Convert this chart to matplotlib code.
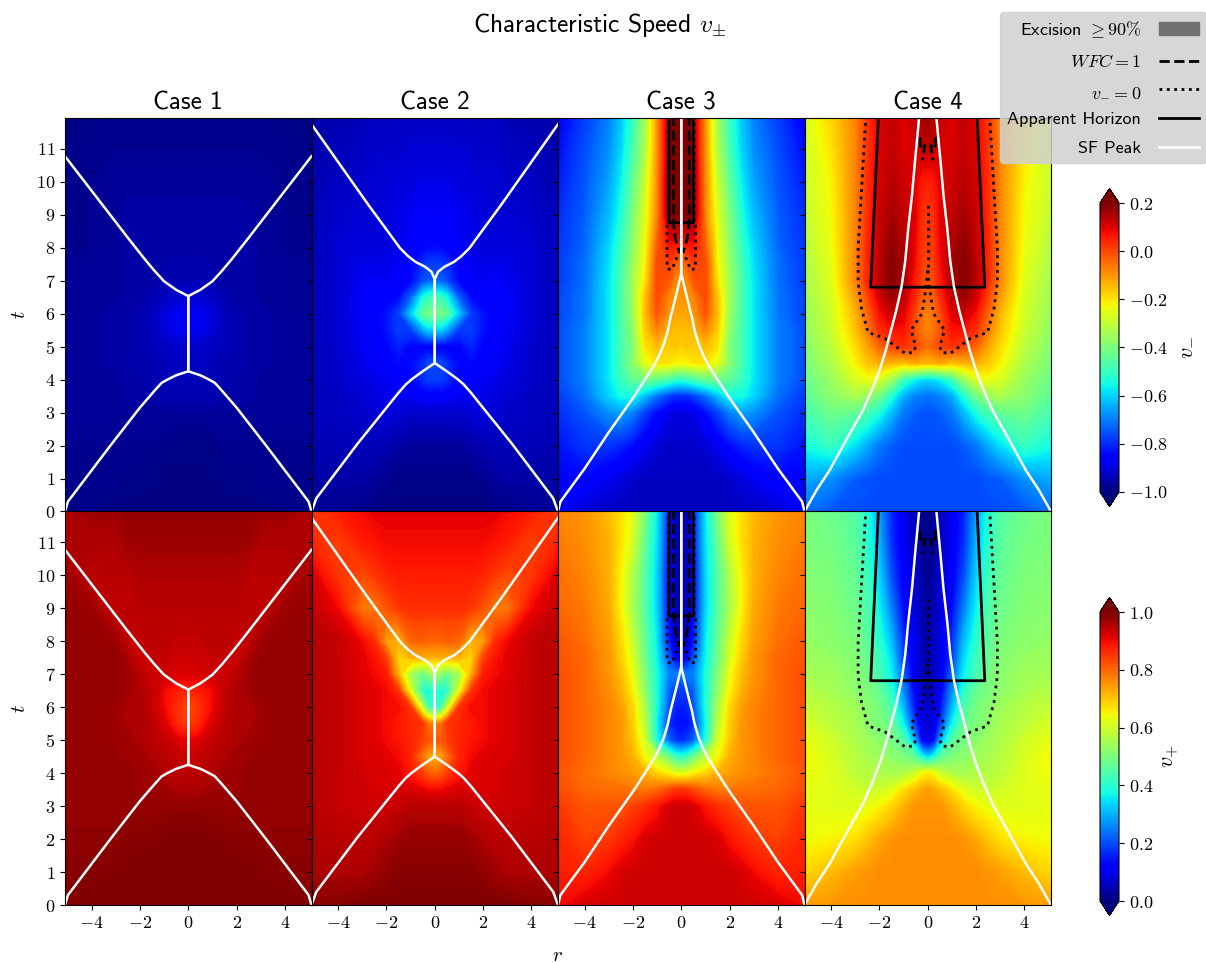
import numpy as np
import matplotlib
matplotlib.use("Agg")
import matplotlib.pyplot as plt
from matplotlib.cm import ScalarMappable
from matplotlib.colors import Normalize
from matplotlib.lines import Line2D
from matplotlib.patches import Patch

plt.rcParams['mathtext.fontset'] = 'cm'
plt.rcParams['font.family'] = ['cmss10', 'DejaVu Sans']
plt.rcParams['axes.unicode_minus'] = False

CASES = ['Case 1', 'Case 2', 'Case 3', 'Case 4']
R_NODES = [0, .25, .5, 1, 1.5, 2, 2.5, 3, 4, 5.1]
T_NODES = [0, 1, 2, 3, 3.5, 4, 4.5, 5, 5.5, 6, 6.5, 7, 7.5, 8, 9, 10, 11, 12]
X_TICKS = [-4, -2, 0, 2, 4]
Y_TICKS = list(range(12))
CB_MINUS_TICKS = [-1.0, -.8, -.6, -.4, -.2, 0.0, .2]
CB_PLUS_TICKS = [0.0, .2, .4, .6, .8, 1.0]

VM1 = [
 [-1,-1,-1,-1,-1,-1,-1,-1,-.99,-.99],
 [-1,-1,-1,-.995,-.99,-.99,-.99,-.98,-.98,-.98],
 [-.99,-.99,-.99,-.99,-.98,-.98,-.98,-.98,-.98,-.98],
 [-.97,-.97,-.97,-.97,-.97,-.97,-.97,-.97,-.97,-.97],
 [-.95,-.95,-.95,-.95,-.96,-.96,-.96,-.97,-.97,-.97],
 [-.94,-.94,-.94,-.94,-.95,-.96,-.96,-.97,-.97,-.97],
 [-.93,-.93,-.93,-.94,-.95,-.95,-.96,-.96,-.97,-.97],
 [-.92,-.92,-.92,-.93,-.94,-.95,-.96,-.96,-.97,-.97],
 [-.88,-.88,-.88,-.91,-.94,-.95,-.96,-.96,-.97,-.97],
 [-.87,-.87,-.88,-.90,-.94,-.95,-.96,-.96,-.97,-.98],
 [-.91,-.91,-.92,-.93,-.95,-.96,-.96,-.97,-.97,-.98],
 [-.95,-.95,-.95,-.95,-.96,-.96,-.96,-.97,-.97,-.98],
 [-.95,-.95,-.95,-.96,-.96,-.96,-.96,-.97,-.97,-.98],
 [-.96,-.96,-.96,-.96,-.96,-.96,-.96,-.97,-.98,-.98],
 [-.96,-.96,-.96,-.96,-.96,-.96,-.96,-.97,-.98,-.99],
 [-.97,-.97,-.97,-.97,-.97,-.97,-.97,-.97,-.98,-.99],
 [-.98,-.98,-.98,-.98,-.98,-.98,-.98,-.98,-.98,-.99],
 [-.98,-.98,-.98,-.98,-.98,-.98,-.98,-.98,-.99,-.99],
]
VM2 = [
 [-1,-1,-1,-1,-1,-1,-.99,-.99,-.98,-.97],
 [-.99,-.99,-.99,-.99,-.99,-.98,-.97,-.96,-.96,-.96],
 [-.97,-.97,-.97,-.97,-.96,-.95,-.94,-.94,-.94,-.95],
 [-.92,-.92,-.92,-.92,-.91,-.90,-.91,-.92,-.93,-.94],
 [-.86,-.86,-.87,-.88,-.88,-.89,-.90,-.91,-.93,-.94],
 [-.78,-.78,-.80,-.85,-.87,-.88,-.89,-.90,-.92,-.94],
 [-.76,-.76,-.80,-.84,-.84,-.87,-.87,-.89,-.92,-.94],
 [-.86,-.86,-.86,-.85,-.81,-.85,-.87,-.88,-.92,-.94],
 [-.62,-.60,-.66,-.78,-.78,-.83,-.87,-.88,-.91,-.94],
 [-.42,-.41,-.44,-.62,-.78,-.83,-.86,-.87,-.91,-.94],
 [-.48,-.50,-.55,-.74,-.84,-.86,-.86,-.87,-.91,-.94],
 [-.74,-.74,-.76,-.85,-.87,-.88,-.87,-.88,-.91,-.94],
 [-.78,-.78,-.80,-.85,-.88,-.89,-.89,-.89,-.91,-.94],
 [-.84,-.84,-.85,-.87,-.89,-.90,-.90,-.90,-.91,-.94],
 [-.87,-.87,-.87,-.88,-.89,-.90,-.91,-.91,-.92,-.94],
 [-.89,-.89,-.89,-.90,-.90,-.91,-.91,-.92,-.93,-.95],
 [-.91,-.91,-.91,-.91,-.92,-.92,-.92,-.93,-.94,-.95],
 [-.93,-.93,-.93,-.93,-.93,-.93,-.93,-.94,-.95,-.96],
]
VM3 = [
 [-.93,-.93,-.93,-.93,-.93,-.93,-.93,-.93,-.91,-.87],
 [-.93,-.93,-.93,-.93,-.93,-.92,-.90,-.88,-.85,-.85],
 [-.92,-.92,-.92,-.91,-.88,-.84,-.81,-.79,-.79,-.83],
 [-.90,-.90,-.89,-.84,-.78,-.70,-.66,-.68,-.75,-.80],
 [-.80,-.80,-.78,-.72,-.63,-.55,-.55,-.60,-.72,-.78],
 [-.52,-.51,-.48,-.44,-.42,-.44,-.50,-.58,-.70,-.76],
 [-.22,-.22,-.20,-.20,-.25,-.38,-.48,-.58,-.70,-.76],
 [-.18,-.16,-.17,-.15,-.20,-.40,-.48,-.58,-.70,-.76],
 [-.15,-.15,-.14,-.08,-.17,-.38,-.48,-.58,-.70,-.76],
 [-.12,-.12,-.10,-.02,-.15,-.36,-.48,-.58,-.71,-.77],
 [-.10,-.10,-.08,.0,-.16,-.35,-.48,-.58,-.71,-.77],
 [-.09,-.08,-.02,.0,-.20,-.35,-.48,-.58,-.72,-.78],
 [-.05,-.03,.01,.0,-.22,-.36,-.49,-.59,-.72,-.78],
 [.03,.05,.06,-.03,-.23,-.38,-.50,-.60,-.73,-.79],
 [.20,.20,.18,-.08,-.26,-.40,-.54,-.63,-.74,-.80],
 [.20,.20,.18,-.09,-.29,-.44,-.57,-.66,-.75,-.82],
 [.20,.20,.16,-.10,-.33,-.48,-.60,-.68,-.76,-.84],
 [.20,.20,.15,-.10,-.35,-.50,-.62,-.70,-.78,-.86],
]
VM4 = [
 [-.76,-.76,-.76,-.76,-.76,-.76,-.76,-.76,-.75,-.72],
 [-.76,-.76,-.76,-.76,-.76,-.76,-.75,-.74,-.68,-.65],
 [-.76,-.76,-.76,-.76,-.74,-.71,-.65,-.59,-.50,-.55],
 [-.75,-.75,-.74,-.71,-.63,-.54,-.48,-.44,-.42,-.48],
 [-.72,-.71,-.70,-.65,-.53,-.42,-.37,-.33,-.38,-.45],
 [-.60,-.59,-.57,-.49,-.36,-.27,-.24,-.27,-.36,-.43],
 [-.14,-.14,-.12,-.16,-.14,-.13,-.16,-.22,-.33,-.40],
 [-.05,-.03,.0,.03,.0,-.04,-.12,-.19,-.31,-.39],
 [-.08,-.06,-.02,.07,.07,.03,-.07,-.16,-.29,-.37],
 [-.07,-.06,-.01,.10,.12,.07,-.04,-.14,-.28,-.36],
 [-.04,-.03,.03,.13,.17,.11,.0,-.11,-.27,-.35],
 [-.01,.0,.05,.15,.19,.14,.04,-.08,-.26,-.34],
 [.0,.01,.07,.16,.19,.14,.04,-.08,-.25,-.33],
 [.01,.02,.08,.15,.18,.13,.04,-.08,-.24,-.32],
 [.02,.03,.09,.13,.16,.12,.03,-.08,-.23,-.30],
 [.05,.06,.09,.12,.14,.11,.03,-.08,-.22,-.29],
 [.13,.12,.11,.10,.13,.10,.02,-.08,-.20,-.28],
 [.17,.16,.13,.10,.13,.09,.02,-.08,-.18,-.27],
]
VP1 = [
 [1,1,1,1,1,1,1,1,1,.995],
 [1,1,1,1,1,1,.995,.995,.99,.99],
 [1,1,1,.995,.99,.99,.99,.985,.985,.985],
 [.98,.98,.98,.98,.98,.98,.98,.98,.98,.98],
 [.96,.96,.96,.97,.97,.97,.98,.98,.98,.98],
 [.95,.95,.95,.96,.97,.97,.98,.98,.98,.98],
 [.93,.93,.94,.95,.96,.97,.97,.98,.98,.98],
 [.91,.91,.92,.94,.95,.96,.97,.97,.98,.98],
 [.86,.85,.87,.92,.95,.96,.96,.97,.98,.98],
 [.84,.84,.86,.90,.94,.96,.96,.97,.98,.98],
 [.88,.87,.88,.90,.94,.96,.97,.98,.98,.98],
 [.92,.92,.92,.93,.93,.95,.97,.98,.98,.98],
 [.93,.93,.93,.94,.94,.93,.96,.98,.98,.98],
 [.94,.94,.94,.95,.95,.94,.94,.97,.98,.98],
 [.95,.95,.95,.95,.95,.95,.95,.94,.97,.98],
 [.96,.96,.96,.96,.96,.96,.95,.95,.95,.97],
 [.97,.97,.97,.97,.97,.97,.97,.96,.96,.96],
 [.98,.98,.98,.98,.98,.98,.98,.97,.97,.96],
]
VP2 = [
 [1,1,1,1,1,1,1,1,.99,.99],
 [.99,.99,.99,.99,.99,.98,.97,.96,.96,.96],
 [.98,.98,.98,.98,.97,.96,.95,.95,.95,.96],
 [.95,.95,.95,.95,.94,.93,.93,.93,.94,.95],
 [.90,.90,.91,.92,.92,.92,.92,.93,.94,.95],
 [.80,.81,.84,.88,.91,.92,.92,.93,.94,.95],
 [.72,.73,.78,.87,.90,.91,.92,.92,.94,.95],
 [.82,.82,.84,.87,.89,.90,.91,.92,.94,.95],
 [.78,.78,.85,.87,.88,.90,.91,.92,.94,.95],
 [.40,.42,.58,.85,.90,.90,.91,.92,.94,.95],
 [.40,.38,.40,.62,.85,.90,.91,.92,.94,.95],
 [.55,.52,.47,.55,.72,.88,.90,.91,.94,.95],
 [.72,.72,.72,.72,.68,.84,.89,.91,.94,.95],
 [.80,.80,.81,.80,.72,.74,.86,.90,.94,.95],
 [.86,.86,.86,.86,.85,.82,.78,.78,.90,.94],
 [.88,.88,.88,.88,.88,.87,.85,.83,.85,.92],
 [.90,.90,.90,.90,.90,.90,.89,.88,.84,.87],
 [.91,.91,.91,.91,.91,.91,.91,.90,.88,.84],
]
VP3 = [
 [.93,.93,.93,.93,.93,.93,.93,.93,.92,.90],
 [.93,.93,.93,.93,.93,.93,.92,.90,.87,.88],
 [.93,.93,.93,.93,.92,.89,.87,.85,.84,.87],
 [.93,.93,.92,.885,.86,.84,.82,.82,.82,.85],
 [.86,.85,.83,.80,.78,.78,.79,.79,.80,.83],
 [.62,.62,.65,.68,.72,.74,.76,.77,.79,.82],
 [.40,.42,.48,.57,.64,.72,.75,.77,.80,.83],
 [.16,.18,.22,.38,.60,.70,.75,.77,.80,.83],
 [.14,.14,.17,.36,.57,.69,.75,.77,.80,.83],
 [.15,.16,.20,.38,.55,.68,.74,.77,.80,.83],
 [.18,.18,.22,.38,.52,.65,.72,.76,.80,.83],
 [.25,.25,.25,.38,.50,.63,.71,.75,.80,.83],
 [.10,.12,.20,.36,.48,.61,.69,.75,.80,.82],
 [.05,.05,.15,.35,.47,.59,.68,.74,.79,.82],
 [.03,.05,.12,.33,.45,.55,.65,.73,.78,.80],
 [.03,.05,.12,.33,.45,.56,.65,.72,.77,.79],
 [.03,.05,.14,.34,.47,.60,.67,.72,.76,.78],
 [.03,.05,.15,.35,.50,.62,.67,.71,.75,.77],
]
VP4 = [
 [.76,.76,.76,.76,.76,.76,.76,.76,.75,.74],
 [.76,.76,.76,.76,.76,.76,.75,.74,.71,.68],
 [.76,.76,.76,.76,.75,.73,.70,.67,.65,.64],
 [.75,.75,.75,.72,.68,.65,.63,.62,.62,.63],
 [.74,.73,.71,.67,.62,.60,.59,.60,.62,.63],
 [.66,.64,.60,.56,.55,.56,.57,.58,.62,.64],
 [.33,.38,.45,.50,.52,.54,.55,.57,.61,.65],
 [.08,.12,.28,.45,.49,.52,.54,.56,.60,.63],
 [.07,.09,.17,.36,.47,.50,.52,.55,.58,.61],
 [.06,.08,.13,.30,.44,.49,.52,.54,.57,.59],
 [.05,.06,.10,.26,.40,.47,.50,.52,.55,.57],
 [.04,.05,.09,.22,.36,.43,.49,.52,.54,.55],
 [.04,.05,.09,.18,.34,.42,.47,.51,.53,.54],
 [.04,.05,.09,.17,.31,.40,.46,.50,.52,.53],
 [.03,.04,.08,.13,.25,.36,.44,.48,.51,.52],
 [.02,.03,.07,.11,.20,.33,.42,.47,.50,.51],
 [.01,.02,.05,.10,.17,.30,.40,.46,.49,.50],
 [.01,.02,.05,.10,.16,.28,.39,.45,.48,.50],
]

SF1_R = [5.1,4.98,3.22,2.0,1.35,1.1,.86,.5,0,0,.5,1.0,1.4,1.8,2.5,5.1]
SF1_T = [0,.3,2,3.15,3.7,3.9,4.0,4.13,4.25,6.53,6.72,6.98,7.3,7.65,8.3,10.77]
SF2_R = [5.1,4.9,3.2,1.5,1.2,.95,.5,0,0,.14,.4,.8,1.1,1.43,2.75,5.1]
SF2_T = [0,.4,2.05,3.6,3.85,4.01,4.25,4.5,7.04,7.27,7.42,7.57,7.74,7.98,9.3,11.74]
SF3_R = [5.1,5.0,4.0,3.0,1.97,1.5,1.12,.9,.71,.55,.44,.3,.15,0,0]
SF3_T = [0,.3,1.3,2.4,3.47,4.0,4.44,4.75,5.1,5.5,5.9,6.3,6.75,7.22,12]
SF4_R = [5.1,4.6,4.07,3.35,2.68,2.3,1.99,1.75,1.59,1.3,1.08,.93,.81,.65,.53,.35]
SF4_T = [0,.65,1.24,2.2,3.07,3.7,4.29,4.85,5.3,6.1,6.83,7.6,8.56,9.6,10.6,12]
AH3_R = [.5,.51,0]
AH3_T = [12,8.76,8.76]
AH4_R = [2.04,2.36,0]
AH4_T = [12,6.8,6.8]
DOT3_R = [.53,.53,.59,.59,.59,.57,.39,.25,.1,0]
DOT3_T = [12,8.7,8.69,7.99,7.58,7.36,7.33,7.58,7.85,8.0]
DOT4_R = [2.56,2.72,2.88,2.88,2.74,2.47,1.77,.95,.59,.5,.69,.24,.11,.04,0]
DOT4_T = [12,10,7.97,6.95,6.14,5.43,5.25,4.8,4.82,5.0,5.5,6.0,6.6,7.0,7.4]
SPINE4_R = [0,0]
SPINE4_T = [7.4,9.35]
DASH3_R = [.33,.33,.25,.12,0]
DASH3_T = [12,8.8,8.3,7.95,7.9]
DASH4_R = [.32,.3,.12,.22]
DASH4_T = [11.35,11.0,11.1,10.65]

W, H = 1206, 963
fig = plt.figure(figsize=(W/100, H/100), dpi=100)
L, R_, T_, B_ = 65, 1051, 118, 905
pw, ph = (R_-L)/4, (B_-T_)/2

rr = np.array(R_NODES)
rfull = np.concatenate([-rr[:0:-1], rr])
tfull = np.array(T_NODES)

def mirror(vals):
    a = np.array(vals, float)
    return np.hstack([a[:, :0:-1], a])

rows = [([VM1, VM2, VM3, VM4], -1.0, 0.2), ([VP1, VP2, VP3, VP4], 0.0, 1.0)]
SF = [(SF1_R, SF1_T), (SF2_R, SF2_T), (SF3_R, SF3_T), (SF4_R, SF4_T)]

def both(ax, r, t, **kw):
    r = np.array(r)
    ax.plot(r, t, **kw)
    ax.plot(-r, t, **kw)

for i, (fields, vmin, vmax) in enumerate(rows):
    for j, fld in enumerate(fields):
        ax = fig.add_axes([(L+j*pw)/W, 1-(T_+(i+1)*ph)/H, pw/W, ph/H])
        ax.contourf(rfull, tfull, mirror(fld), levels=np.linspace(vmin, vmax, 241),
                    cmap='jet', extend='both', antialiased=False)
        ax.set_xlim(-5.1, 5.1)
        ax.set_ylim(0, 11.93)
        ax.set_xticks(X_TICKS)
        ax.set_yticks(Y_TICKS)
        ax.tick_params(labelsize=13, labelleft=False, labelbottom=False, length=3.5)
        if j == 0:
            ax.set_yticks(Y_TICKS, labels=[f'${v}$' for v in Y_TICKS])
            ax.tick_params(labelleft=True)
            ax.set_ylabel('$t$', fontsize=15, labelpad=5)
        if i == 1:
            ax.set_xticks(X_TICKS, labels=[f'${v}$' for v in X_TICKS])
            ax.tick_params(labelbottom=True)
        if i == 0:
            ax.set_title(CASES[j], fontsize=18, pad=6)
        if j == 2:
            both(ax, DASH3_R, DASH3_T, color='k', ls='--', lw=2)
            both(ax, DOT3_R, DOT3_T, color='k', ls=':', lw=2)
            both(ax, AH3_R, AH3_T, color='k', lw=2)
        if j == 3:
            both(ax, DASH4_R, DASH4_T, color='k', ls='--', lw=2)
            both(ax, DOT4_R, DOT4_T, color='k', ls=':', lw=2)
            ax.plot(SPINE4_R, SPINE4_T, color='k', ls=':', lw=2)
            both(ax, AH4_R, AH4_T, color='k', lw=2)
        both(ax, SF[j][0], SF[j][1], color='w', lw=1.8)

def colorbar(y0, y1, vmin, vmax, ticks, label):
    ext = 0.05*(y1-y0)
    cax = fig.add_axes([1100/W, 1-(y1+ext)/H, 19/W, (y1-y0+2*ext)/H])
    sm = ScalarMappable(norm=Normalize(vmin, vmax), cmap='jet')
    cb = fig.colorbar(sm, cax=cax, extend='both')
    cb.set_ticks(ticks, labels=[f'${v:.1f}$' for v in ticks])
    cb.ax.tick_params(labelsize=13)
    cb.set_label(label, fontsize=16, labelpad=6)

colorbar(203, 492, -1.0, 0.2, CB_MINUS_TICKS, '$v_{-}$')
colorbar(612, 901, 0.0, 1.0, CB_PLUS_TICKS, '$v_{+}$')

fig.text(600/W, 1-25/H, r'Characteristic Speed $v_{\pm}$', fontsize=18.4, ha='center', va='center')
fig.text(557/W, 1-955/H, '$r$', fontsize=15, ha='center', va='center')

handles = [
    Patch(color='#707070', label=r'Excision $\geq 90\%$'),
    Line2D([], [], color='k', ls='--', lw=2, label='$WFC=1$'),
    Line2D([], [], color='k', ls=':', lw=2, label='$v_{-}=0$'),
    Line2D([], [], color='k', lw=2, label='Apparent Horizon'),
    Line2D([], [], color='w', lw=2, label='SF Peak'),
]
fig.legend(handles=handles, loc='upper right', bbox_to_anchor=(1.0, 1-12/H), borderaxespad=0,
           markerfirst=False, fontsize=13, facecolor='0.82', edgecolor='0.82', framealpha=.85,
           labelspacing=.72, handlelength=2.2, handletextpad=1.0, alignment='right')

fig.savefig('out.png', dpi=100)
